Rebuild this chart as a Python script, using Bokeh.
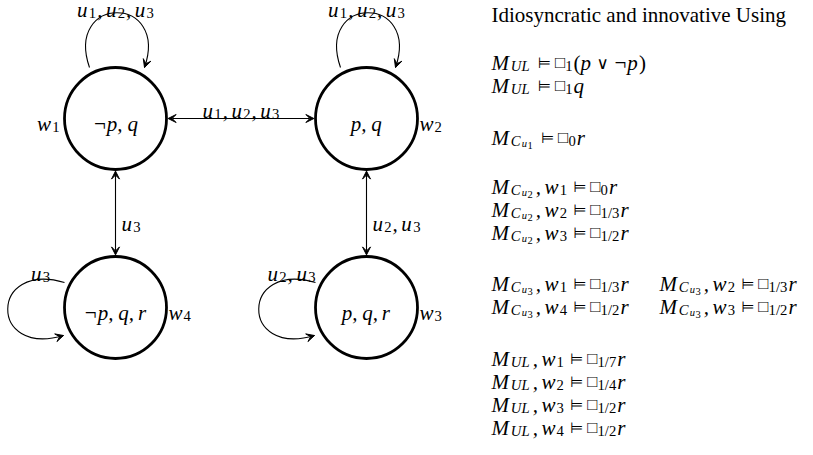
from bokeh.plotting import figure
from bokeh.models import Arrow, VeeHead, Range1d
from bokeh.core.properties import value
from bokeh.embed import file_html
from bokeh.resources import INLINE

# ---------------- data ----------------
worlds = ["w_1", "w_2", "w_3", "w_4"]
world_props = ["¬p, q", "p, q", "p, q, r", "¬p, q, r"]

loop_worlds = ["w_1", "w_2", "w_4", "w_3"]
loop_agents = ["u_1, u_2, u_3", "u_1, u_2, u_3", "u_3", "u_2, u_3"]

link_from = ["w_1", "w_1", "w_2"]
link_to = ["w_2", "w_4", "w_3"]
link_agents = ["u_1, u_2, u_3", "u_3", "u_2, u_3"]

heading = "Idiosyncratic and innovative Using"
ul_validities = ["□_1(p ∨ ¬p)", "□_1 q"]
cu1_validity = "□_0 r"
cu2_worlds = ["w_1", "w_2", "w_3"]
cu2_grades = ["0", "1/3", "1/2"]
cu3_worlds = ["w_1", "w_2", "w_4", "w_3"]
cu3_grades = ["1/3", "1/3", "1/2", "1/2"]
ul_worlds = ["w_1", "w_2", "w_3", "w_4"]
ul_grades = ["1/7", "1/4", "1/2", "1/2"]

# ---------------- layout ----------------
F = 21.0
SERIF = "Liberation Serif"
SYMFONT = "DejaVu Sans"
node_pos = {"w_1": (115, 126), "w_2": (366, 126), "w_3": (366, 315), "w_4": (115, 315)}
R = 51
R_OUT = 52.6
label_side = {"w_1": "left", "w_2": "right", "w_3": "right", "w_4": "right"}
loop_side = {"w_1": "above", "w_2": "above", "w_3": "left", "w_4": "left"}
LOOP = {
    "above": [(-26, -51), (-51, -124), (54, -124), (29, -51)],
    "left": [(-51, -25), (-126, -47), (-127, 50), (-52, 28)],
}

SCALE = [1.0, 0.7, 0.5, 0.5]
SHIFT = [0.0, 3.3, 6.0, 7.5]
THIN = 0.167
SCRIPTSPACE = 1.0
W_IT = {'M': .92, 'U': .78, 'L': .64, 'C': .74, 'u': .56, 'w': .72,
        'p': .56, 'q': .52, 'r': .45, ',': .25, '¬': .675}
W_RM = {d: .5 for d in "0123456789"}
W_RM.update({'/': .278, '(': .333, ')': .333})
SYM_SLOT = {'⊨': (.36, .42, .27), '∨': (.22, .55, .22), '□': (0.0, .5, 0.0)}
SYM_SIZE = {'⊨': 0.72, '∨': 0.8, '□': 0.8}
SYM_FONT = {'⊨': SYMFONT, '∨': SYMFONT, '□': SERIF}


def parse(s, level=0):
    out = []
    i = 0
    while i < len(s):
        c = s[i]
        if c == '_':
            i += 1
            if s[i] == '{':
                depth, j = 1, i + 1
                while depth:
                    if s[j] == '{':
                        depth += 1
                    elif s[j] == '}':
                        depth -= 1
                    j += 1
                out += parse(s[i + 1:j - 1], level + 1)
                i = j
            else:
                out += parse(s[i], level + 1)
                i += 1
        elif c == ' ':
            i += 1
        else:
            out.append((c, level))
            i += 1
    return out


groups = {}


def emit(font, style, align, x, y, t, size):
    g = groups.setdefault((font, style, align), dict(x=[], y=[], text=[], size=[]))
    g["x"].append(x)
    g["y"].append(y)
    g["text"].append(t)
    g["size"].append("%.1fpx" % size)


def typeset(src, x, y, align="left"):
    runs = []
    cur = 0.0
    run = None
    prev_lv = 0
    for ch, lv in parse(src):
        lv = min(lv, len(SCALE) - 1)
        if lv < prev_lv:
            cur += SCRIPTSPACE * (prev_lv - lv)
        prev_lv = lv
        size = F * SCALE[lv]
        if ch in SYM_SLOT:
            pre, w, post = SYM_SLOT[ch]
            if lv > 0:
                pre = post = 0.0
            cur += pre * size
            runs.append(dict(t=ch, x=cur + w * size / 2, lv=lv, cls="sym"))
            cur += (w + post) * size
            run = None
            continue
        cls = "it" if ch in W_IT else "rm"
        w = (W_IT if cls == "it" else W_RM)[ch]
        if run is None or run["cls"] != cls or run["lv"] != lv:
            run = dict(t="", x=cur, lv=lv, cls=cls)
            runs.append(run)
        run["t"] += ch
        cur += w * size
        if ch == ',' and lv == 0:
            cur += THIN * size
            run = None
    off = x - (cur / 2 if align == "center" else cur if align == "right" else 0)
    for r in runs:
        size = F * SCALE[r["lv"]]
        yy = y + SHIFT[r["lv"]]
        if r["cls"] == "sym":
            emit(SYM_FONT[r["t"]], "normal", "center", off + r["x"], yy, r["t"], size * SYM_SIZE[r["t"]])
        elif r["cls"] == "it":
            emit(SERIF, "italic", "left", off + r["x"], yy, r["t"], size)
        else:
            emit(SERIF, "normal", "left", off + r["x"], yy, r["t"], size)
    return off + cur


p = figure(width=813, height=439, x_range=Range1d(0, 813), y_range=Range1d(447, 8),
           output_backend="svg", toolbar_location=None, min_border=0,
           x_axis_type=None, y_axis_type=None)
p.grid.visible = False
p.outline_line_color = None
p.background_fill_color = "white"
p.border_fill_color = "white"

# nodes
nx = [node_pos[w][0] for w in worlds]
ny = [node_pos[w][1] for w in worlds]
p.circle(x=nx, y=ny, radius=R, fill_color=None, line_color="black", line_width=2.8)
for w, props in zip(worlds, world_props):
    cx, cy = node_pos[w]
    typeset(props, cx, cy + 5, "center")
    if label_side[w] == "left":
        typeset(w, cx - R - 5, cy + 5, "right")
    else:
        typeset(w, cx + R + 2, cy + 5, "left")


def head(x_end, y_end, dx, dy):
    n = (dx * dx + dy * dy) ** 0.5
    ux, uy = dx / n, dy / n
    p.add_layout(Arrow(end=VeeHead(size=8, fill_color="black", line_color="black", line_width=1),
                       x_start=x_end - 4 * ux, y_start=y_end - 4 * uy, x_end=x_end, y_end=y_end,
                       line_width=1.1, line_color="black"))


# loops
bx0, by0, bx1, by1, bc0x, bc0y, bc1x, bc1y = ([] for _ in range(8))
for w, agents in zip(loop_worlds, loop_agents):
    cx, cy = node_pos[w]
    pts = LOOP[loop_side[w]]
    (a, b), (c, d), (e, f), (g, h) = pts
    bx0.append(cx + a); by0.append(cy + b)
    bc0x.append(cx + c); bc0y.append(cy + d)
    bc1x.append(cx + e); bc1y.append(cy + f)
    bx1.append(cx + g); by1.append(cy + h)
    head(cx + g, cy + h, g - e, h - f)
    if loop_side[w] == "above":
        typeset(agents, cx, cy - 109, "center")
    else:
        typeset(agents, cx - 75, cy - 34, "center")
p.bezier(x0=bx0, y0=by0, x1=bx1, y1=by1, cx0=bc0x, cy0=bc0y, cx1=bc1x, cy1=bc1y,
         line_color="black", line_width=1.1)

# links (both directions)
for a, b, agents in zip(link_from, link_to, link_agents):
    (x1, y1), (x2, y2) = node_pos[a], node_pos[b]
    dx, dy = x2 - x1, y2 - y1
    n = (dx * dx + dy * dy) ** 0.5
    ux, uy = dx / n, dy / n
    p.add_layout(Arrow(start=VeeHead(size=8, fill_color="black", line_color="black", line_width=1),
                       end=VeeHead(size=8, fill_color="black", line_color="black", line_width=1),
                       x_start=x1 + ux * R_OUT, y_start=y1 + uy * R_OUT,
                       x_end=x2 - ux * R_OUT, y_end=y2 - uy * R_OUT,
                       line_width=1.1, line_color="black"))
    mx, my = (x1 + x2) / 2, (y1 + y2) / 2
    if abs(dy) < 1:
        typeset(agents, mx, my - 8, "center")
    else:
        typeset(agents, mx + 6, my + 10.5, "left")

# right panel
X0 = 491
emit(SERIF, "normal", "left", X0, 22, heading, F)
y = 22 + 48
for s in ul_validities:
    typeset("M_{UL} ⊨ " + s, X0, y)
    y += 23
y += 29
typeset("M_{C_{u_1}} ⊨ " + cu1_validity, X0, y)
y += 49
for w, g in zip(cu2_worlds, cu2_grades):
    typeset("M_{C_{u_2}}, " + w + " ⊨ □_{" + g + "} r", X0, y)
    y += 23
y += 28
for i in range(0, len(cu3_worlds), 2):
    typeset("M_{C_{u_3}}, " + cu3_worlds[i] + " ⊨ □_{" + cu3_grades[i] + "} r", X0, y)
    typeset("M_{C_{u_3}}, " + cu3_worlds[i + 1] + " ⊨ □_{" + cu3_grades[i + 1] + "} r", 659, y)
    y += 23
y += 29
for w, g in zip(ul_worlds, ul_grades):
    typeset("M_{UL}, " + w + " ⊨ □_{" + g + "} r", X0, y)
    y += 23

for (font, style, align), g in groups.items():
    p.text(x=g["x"], y=g["y"], text=g["text"], text_font_size=g["size"],
           text_font=value(font), text_font_style=style, text_align=align,
           text_baseline="alphabetic", text_color="black")

open("out.html", "w").write(file_html(p, INLINE))
